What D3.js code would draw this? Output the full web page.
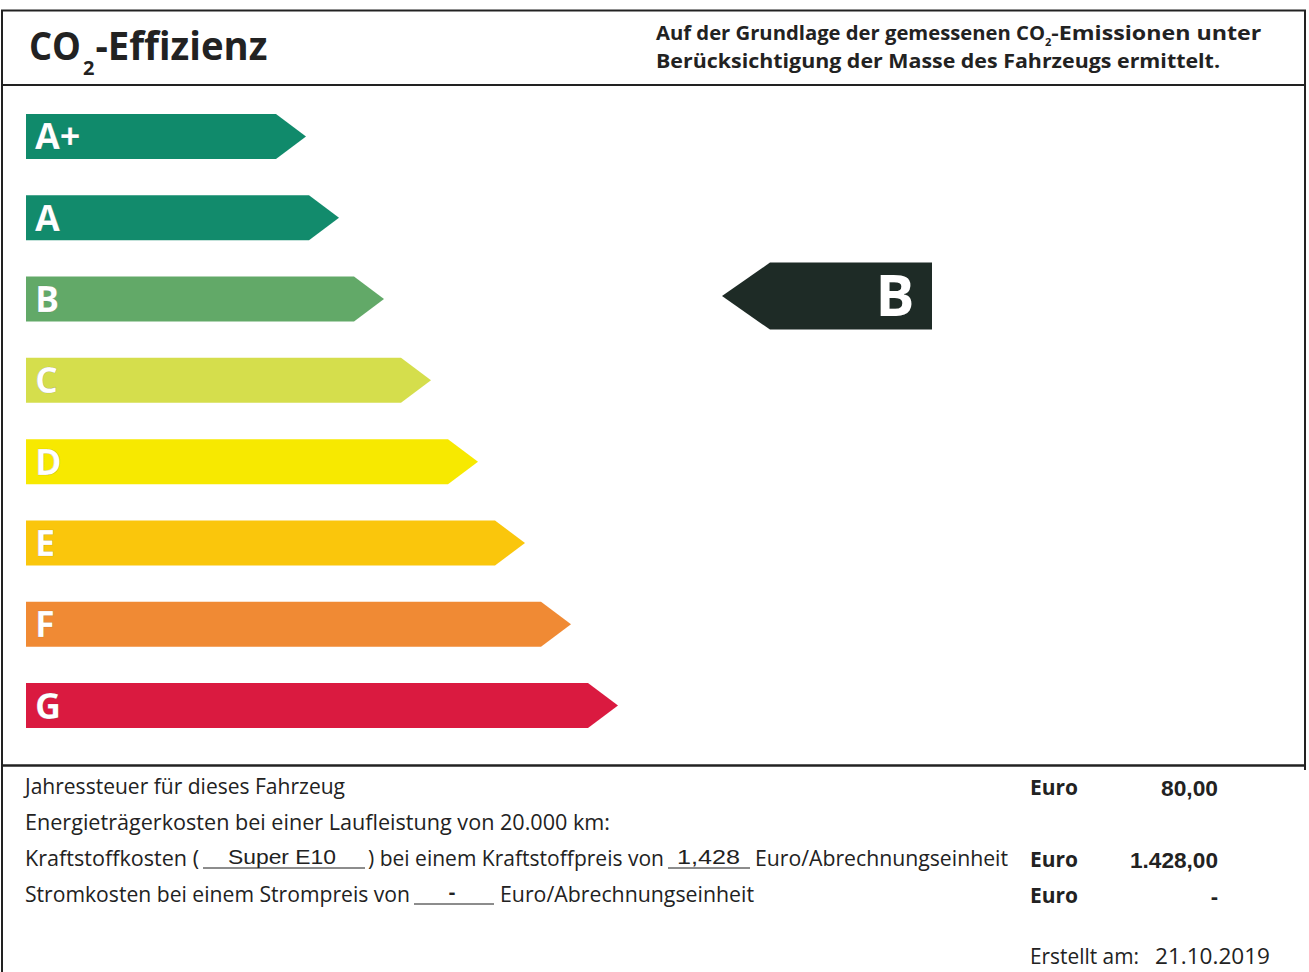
<!DOCTYPE html>
<html><head><meta charset="utf-8">
<script src="https://cdn.jsdelivr.net/npm/d3@7/dist/d3.min.js"></script>
<style>
html,body{margin:0;padding:0;background:#fff;}
svg{display:block;}
</style></head>
<body>
<script>
// ---- data ----
const classes = ["A+","A","B","C","D","E","F","G"];
const classColors = ["#108a6b","#128b6c","#62a968","#d5de4c","#f7e900","#fac60c","#f08a34","#da1a40"];
const barLengths = [280, 313, 358, 405, 452, 499, 545, 592];
const rating = "B";
const titleMain = "CO";
const titleRest = "-Effizienz";
const noteLine1 = ["Auf der Grundlage der gemessenen CO", "-Emissionen unter"];
const noteLine2 = "Berücksichtigung der Masse des Fahrzeugs ermittelt.";
const costLabels = ["Jahressteuer für dieses Fahrzeug",
  "Energieträgerkosten bei einer Laufleistung von 20.000 km:"];
const fuelType = "Super E10";
const fuelPrice = "1,428";
const powerPrice = "-";
const costValues = ["80,00", "1.428,00", "-"];
const createdLabel = "Erstellt am:";
const createdDate = "21.10.2019";

const W = 1309, H = 972;
const svg = d3.select("body").append("svg").attr("width", W).attr("height", H);
svg.append("rect").attr("width", W).attr("height", H).attr("fill", "#fff");

const ink = "#1a1a1a";
const frame = svg.append("g").attr("stroke", "#222").attr("stroke-width", 2).attr("fill", "none");
frame.append("line").attr("x1", 1).attr("x2", 1306).attr("y1", 10.5).attr("y2", 10.5);
frame.append("line").attr("x1", 2).attr("x2", 2).attr("y1", 10).attr("y2", 972);
frame.append("line").attr("x1", 1305).attr("x2", 1305).attr("y1", 10).attr("y2", 770);
frame.append("line").attr("x1", 1).attr("x2", 1306).attr("y1", 85).attr("y2", 85);
frame.append("line").attr("x1", 1).attr("x2", 1306).attr("y1", 765.5).attr("y2", 765.5).attr("stroke-width", 2.5);

const font = "'Open Sans', 'Noto Sans', sans-serif";

// title
const t = svg.append("text").attr("x", 29).attr("y", 60).attr("font-family", font)
  .attr("font-weight", 700).attr("font-size", 39).attr("fill", "#222");
t.append("tspan").text(titleMain).attr("textLength", 52).attr("lengthAdjust", "spacingAndGlyphs");
t.append("tspan").text("2").attr("font-size", 20).attr("dy", 15).attr("dx", 2);
t.append("tspan").text(titleRest).attr("dy", -15).attr("dx", 1).attr("textLength", 172).attr("lengthAdjust", "spacingAndGlyphs");

// note
const n1 = svg.append("text").attr("x", 656).attr("y", 40).attr("font-family", font)
  .attr("font-weight", 700).attr("font-size", 20).attr("fill", "#222");
n1.append("tspan").text(noteLine1[0]).attr("textLength", 389).attr("lengthAdjust", "spacingAndGlyphs");
n1.append("tspan").text("2").attr("font-size", 11).attr("dy", 6);
n1.append("tspan").text(noteLine1[1]).attr("dy", -6).attr("textLength", 210).attr("lengthAdjust", "spacingAndGlyphs");
svg.append("text").attr("x", 656).attr("y", 68).attr("font-family", font)
  .attr("font-weight", 700).attr("font-size", 20).attr("fill", "#222")
  .attr("textLength", 564).attr("lengthAdjust", "spacingAndGlyphs").text(noteLine2);

// scales
const y = d3.scaleBand().domain(classes).range([114, 728]).paddingInner(0.4465).paddingOuter(0);
const x = d3.scaleLinear().domain([0, 600]).range([26, 626]);
const tip = 30;

const bars = svg.append("g").selectAll("g").data(classes).join("g");
bars.append("path")
  .attr("d", (d, i) => {
    const y0 = y(d), y1 = y0 + y.bandwidth(), ym = (y0 + y1) / 2;
    const x0 = x(0), xe = x(barLengths[i]);
    return `M${x0},${y0}H${xe - tip}L${xe},${ym}L${xe - tip},${y1}H${x0}Z`;
  })
  .attr("fill", (d, i) => classColors[i]);
bars.append("text")
  .attr("x", 35)
  .attr("y", d => y(d) + y.bandwidth() / 2 + 13)
  .attr("font-family", font).attr("font-weight", 700).attr("font-size", 36)
  .attr("fill", "#fff")
  .attr("stroke", "rgba(0,0,0,0.2)").attr("stroke-width", 0.6)
  .text(d => d);

// rating indicator
const ry = y(rating) + y.bandwidth() / 2 - 3;
const ih = 67, ix0 = 722, ix1 = 932, ip = 48;
svg.append("path")
  .attr("d", `M${ix0},${ry}L${ix0 + ip},${ry - ih / 2}H${ix1}V${ry + ih / 2}H${ix0 + ip}Z`)
  .attr("fill", "#1e2b26");
svg.append("text").attr("x", 895).attr("y", ry + 20).attr("text-anchor", "middle")
  .attr("font-family", font).attr("font-weight", 700).attr("font-size", 58).attr("fill", "#fff")
  .text(rating);

// bottom section
const reg = { "font-family": font, "font-size": 21, "fill": "#222" };
function txt(xp, yp, s, len, opts = {}) {
  const e = svg.append("text").attr("x", xp).attr("y", yp).text(s);
  const o = Object.assign({}, reg, opts);
  Object.keys(o).forEach(k => e.attr(k, o[k]));
  if (len) e.attr("textLength", len).attr("lengthAdjust", "spacingAndGlyphs");
  return e;
}
const arial = "'Liberation Sans', Arial, sans-serif";
const rowY = [794, 830, 866, 902];
txt(25, rowY[0], costLabels[0], 320);
txt(25, rowY[1], costLabels[1], 585);
txt(25, rowY[2], "Kraftstoffkosten (", 174);
svg.append("line").attr("x1", 203).attr("x2", 365).attr("y1", rowY[2] + 2).attr("y2", rowY[2] + 2).attr("stroke", ink).attr("stroke-width", 1);
txt(228, rowY[2] - 2, fuelType, 108, { "font-family": arial, "font-size": 21 });
txt(368, rowY[2], ") bei einem Kraftstoffpreis von", 296);
svg.append("line").attr("x1", 668).attr("x2", 750).attr("y1", rowY[2] + 2).attr("y2", rowY[2] + 2).attr("stroke", ink).attr("stroke-width", 1);
txt(677, rowY[2] - 2, fuelPrice, 63, { "font-family": arial, "font-size": 21 });
txt(755, rowY[2], "Euro/Abrechnungseinheit", 253);
txt(25, rowY[3], "Stromkosten bei einem Strompreis von", 385);
svg.append("line").attr("x1", 414).attr("x2", 494).attr("y1", rowY[3] + 2).attr("y2", rowY[3] + 2).attr("stroke", ink).attr("stroke-width", 1);
txt(452, rowY[3] - 3, powerPrice, null, { "font-family": arial, "font-weight": 700, "text-anchor": "middle" });
txt(500, rowY[3], "Euro/Abrechnungseinheit", 254);

const euroRows = [rowY[0], rowY[2], rowY[3]];
const valueLens = [57, 88, null];
euroRows.forEach((yy, i) => {
  txt(1030, yy + 1, "Euro", 48, { "font-weight": 700 });
  txt(1218, yy + 2, costValues[i], valueLens[i], { "font-weight": 700, "text-anchor": "end", "font-family": arial, "font-size": 22 });
});
txt(1030, 964, createdLabel, 109);
txt(1155, 964, createdDate, 115);
</script>
</body></html>
